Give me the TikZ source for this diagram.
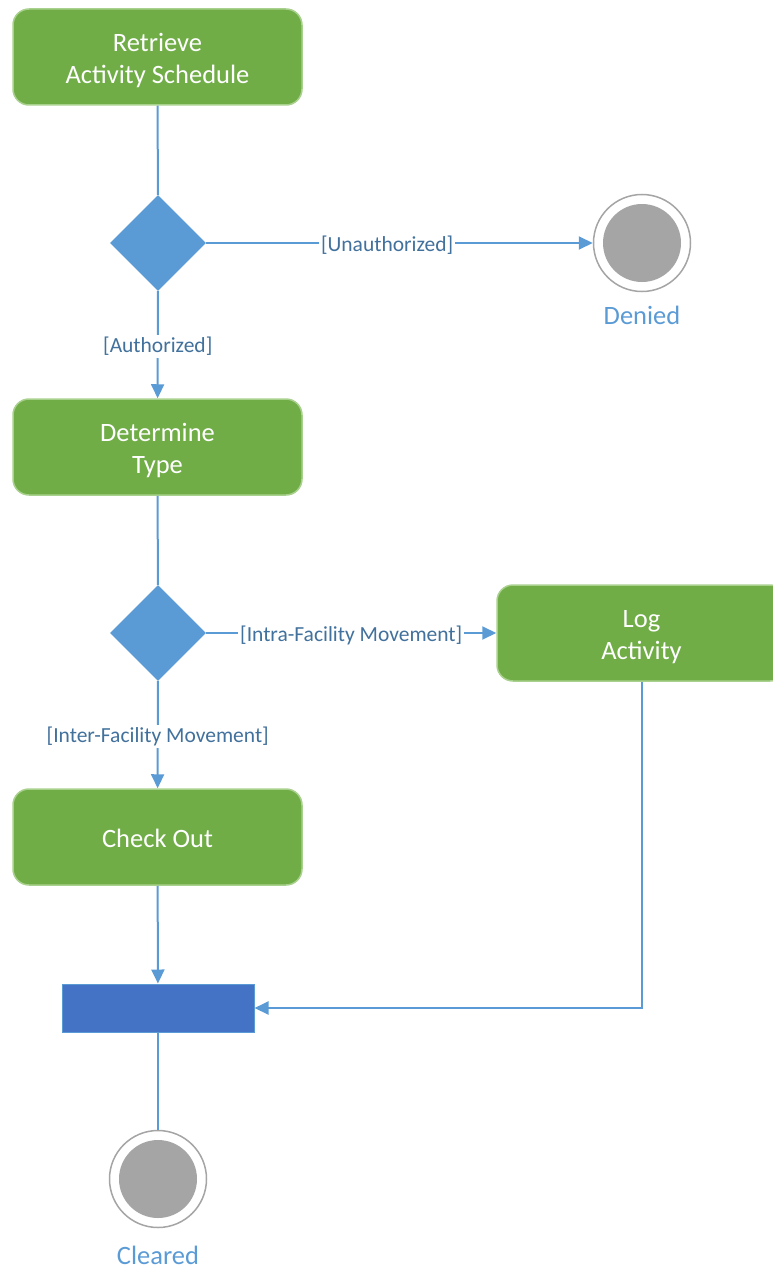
\documentclass[tikz,border=0pt]{standalone}
\usepackage{fontspec}
\setmainfont{Carlito}
\usetikzlibrary{arrows.meta,shapes.geometric}
\definecolor{actgreen}{HTML}{70AD47}
\definecolor{actborder}{HTML}{A9D18E}
\definecolor{flowblue}{HTML}{5B9BD5}
\definecolor{labblue}{HTML}{41719C}
\definecolor{endgray}{HTML}{A5A5A5}
\definecolor{barblue}{HTML}{4472C4}
\tikzset{
  actbox/.style={rectangle, rounded corners=16pt, fill=actgreen, draw=actborder, line width=1.5pt,
    minimum width=289pt, minimum height=96pt, inner sep=0pt},
  acttext/.style={text=white, inner sep=0pt, font=\fontsize{26.5}{32}\selectfont, align=center},
  decision/.style={diamond, fill=flowblue, draw=none, minimum width=96pt, minimum height=96pt, inner sep=0pt},
  endring/.style={circle, draw=endgray, line width=1.5pt, fill=white, minimum size=97pt, inner sep=0pt},
  enddot/.style={circle, fill=endgray, minimum size=78pt, inner sep=0pt},
  endlabel/.style={text=flowblue, inner sep=0pt, anchor=base, font=\fontsize{26.5}{30}\selectfont},
  joinbar/.style={rectangle, fill=barblue, draw=flowblue, line width=1pt, minimum width=192pt, minimum height=48pt, inner sep=0pt},
  flow/.style={draw=flowblue, line width=2pt},
  flowarr/.style={flow, -{Triangle[length=14pt,width=13pt]}},
  lab/.style={fill=white, text=labblue, inner sep=2pt, yshift=-2pt, font=\fontsize{21.5}{24}\selectfont},
}
\begin{document}
\begin{tikzpicture}[x=1pt,y=-1pt]
\useasboundingbox (0,0) rectangle (773,1268);
\node[actbox] (retrieve) at (157.5,57) {};
\node[acttext] (retrievetxt) at (157.5,61) {Retrieve\\Activity Schedule};
\node[decision] (d1) at (158,243) {};
\node[endring] (denied) at (642,243) {};
\node[enddot] (denieddot) at (642,243) {};
\node[endlabel] (deniedlab) at (642,324) {Denied};
\node[actbox] (determine) at (157.5,447) {};
\node[acttext] (determinetxt) at (157.5,451) {Determine\\Type};
\node[decision] (d2) at (158,633) {};
\node[actbox] (log) at (641.5,633) {};
\node[acttext] (logtxt) at (641.5,637) {Log\\Activity};
\node[actbox] (checkout) at (157.5,837) {};
\node[acttext] (checkouttxt) at (157.5,838) {Check Out};
\node[joinbar] (bar) at (158,1008) {};
\node[endring] (cleared) at (158,1179) {};
\node[enddot] (cleareddot) at (158,1179) {};
\node[endlabel] (clearedlab) at (158,1264) {Cleared};

\draw[flow] (retrieve) -- (d1);
\draw[flowarr] (d1) -- node[lab,pos=0.468] {[Unauthorized]} (denied);
\draw[flowarr] (d1) -- node[lab] {[Authorized]} (determine);
\draw[flow] (determine) -- (d2);
\draw[flowarr] (d2) -- node[lab] {[Intra-Facility Movement]} (log);
\draw[flowarr] (d2) -- node[lab] {[Inter-Facility Movement]} (checkout);
\draw[flowarr] (checkout) -- (bar);
\draw[flowarr] (log.south) |- (bar.east);
\draw[flow] (bar) -- (cleared);
\end{tikzpicture}
\end{document}
